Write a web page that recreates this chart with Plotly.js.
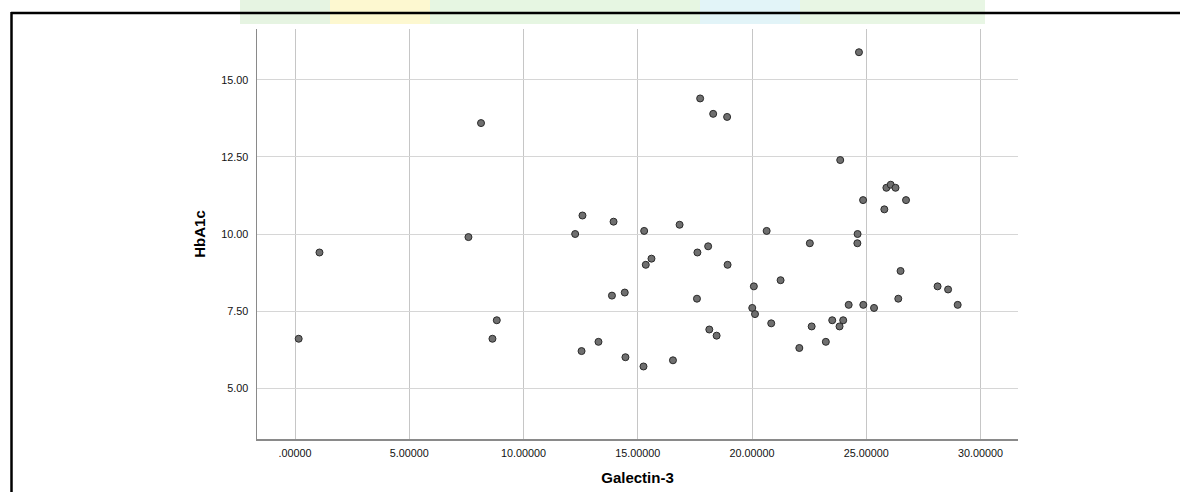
<!DOCTYPE html>
<html>
<head>
<meta charset="utf-8">
<script src="https://cdn.plot.ly/plotly-3.0.1.min.js"></script>
<style>html,body{margin:0;padding:0;background:#fff;}#chart{width:1180px;height:492px;}</style>
</head>
<body>
<div id="chart"></div>
<script>
// Data
var galectin3 = [0.16, 1.07, 7.59, 8.14, 8.64, 8.83, 12.26, 12.58, 12.54, 13.28,
  13.87, 13.94, 14.43, 14.46, 15.25, 15.28, 15.35, 15.60, 16.54, 16.83,
  17.59, 17.61, 17.73, 18.08, 18.13, 18.30, 18.45, 18.91, 18.93, 20.01,
  20.08, 20.13, 20.64, 20.84, 21.25, 22.07, 22.53, 22.61, 23.23, 23.51,
  23.83, 23.86, 23.99, 24.23, 24.61, 24.62, 24.68, 24.86, 24.87, 25.34,
  25.79, 25.88, 26.07, 26.28, 26.40, 26.50, 26.74, 28.12, 28.58, 29.00];
var hba1c = [6.6, 9.4, 9.9, 13.6, 6.6, 7.2, 10.0, 10.6, 6.2, 6.5,
  8.0, 10.4, 8.1, 6.0, 5.7, 10.1, 9.0, 9.2, 5.9, 10.3,
  7.9, 9.4, 14.4, 9.6, 6.9, 13.9, 6.7, 13.8, 9.0, 7.6,
  8.3, 7.4, 10.1, 7.1, 8.5, 6.3, 9.7, 7.0, 6.5, 7.2,
  7.0, 12.4, 7.2, 7.7, 9.7, 10.0, 15.9, 11.1, 7.7, 7.6,
  10.8, 11.5, 11.6, 11.5, 7.9, 8.8, 11.1, 8.3, 8.2, 7.7];

var xTickVals = [0, 5, 10, 15, 20, 25, 30];
var xTickText = ['.00000', '5.00000', '10.00000', '15.00000', '20.00000', '25.00000', '30.00000'];
var yTickVals = [5, 7.5, 10, 12.5, 15];
var yTickText = ['5.00', '7.50', '10.00', '12.50', '15.00'];

var W = 1180, H = 492;
var mL = 257, mR = 162, mT = 29, mB = 53;
var pw = W - mL - mR, ph = H - mT - mB;
function px(x) { return (x - mL) / pw; }
function py(y) { return (H - mB - y) / ph; }

var shapes = [];
// faint watermark band at top
var wm = [
  [240, 330, 'rgba(200,230,190,0.45)'],
  [330, 430, 'rgba(250,240,150,0.45)'],
  [430, 700, 'rgba(200,235,190,0.45)'],
  [700, 800, 'rgba(190,230,240,0.45)'],
  [800, 985, 'rgba(205,235,195,0.45)']
];
wm.forEach(function (r) {
  shapes.push({type: 'rect', xref: 'paper', yref: 'paper', x0: px(r[0]), x1: px(r[1]), y0: py(24), y1: py(0),
    fillcolor: r[2], line: {width: 0}, layer: 'below'});
});
// outer frame lines
shapes.push({type: 'line', xref: 'paper', yref: 'paper', x0: px(11), x1: px(1180), y0: py(13), y1: py(13),
  line: {color: '#000', width: 2.5}});
shapes.push({type: 'line', xref: 'paper', yref: 'paper', x0: px(11.5), x1: px(11.5), y0: py(12), y1: py(492),
  line: {color: '#000', width: 2.5}});

var trace = {
  type: 'scatter', mode: 'markers',
  x: galectin3, y: hba1c,
  marker: {size: 7, color: '#6f6f6f', line: {color: '#2a2a2a', width: 1}},
  hoverinfo: 'x+y'
};

var layout = {
  width: W, height: H,
  margin: {l: mL, r: mR, t: mT, b: mB, pad: 0},
  paper_bgcolor: '#fff', plot_bgcolor: '#fff',
  showlegend: false,
  font: {family: 'Liberation Sans, Arial, sans-serif', size: 10.8, color: '#111'},
  xaxis: {
    range: [-1.664, 31.64], tickvals: xTickVals, ticktext: xTickText,
    showgrid: true, gridcolor: '#c6c6c6', gridwidth: 1, zeroline: false,
    showline: true, linecolor: '#8a8a8a', linewidth: 1.5, ticks: '',
    ticklabelstandoff: 4,
    title: {text: 'Galectin-3', font: {size: 15, color: '#000', weight: 'bold', family: 'Liberation Sans, Arial, sans-serif'}, standoff: 14}
  },
  yaxis: {
    range: [3.346, 16.654], tickvals: yTickVals, ticktext: yTickText,
    showgrid: true, gridcolor: '#d6d6d6', gridwidth: 1, zeroline: false,
    showline: true, linecolor: '#8a8a8a', linewidth: 1.5, ticks: '',
    ticklabelstandoff: 5,
    title: {text: 'HbA1c', font: {size: 15, color: '#000', weight: 'bold', family: 'Liberation Sans, Arial, sans-serif'}, standoff: 12}
  },
  shapes: shapes
};

Plotly.newPlot('chart', [trace], layout, {displayModeBar: false, staticPlot: true});
</script>
</body>
</html>
